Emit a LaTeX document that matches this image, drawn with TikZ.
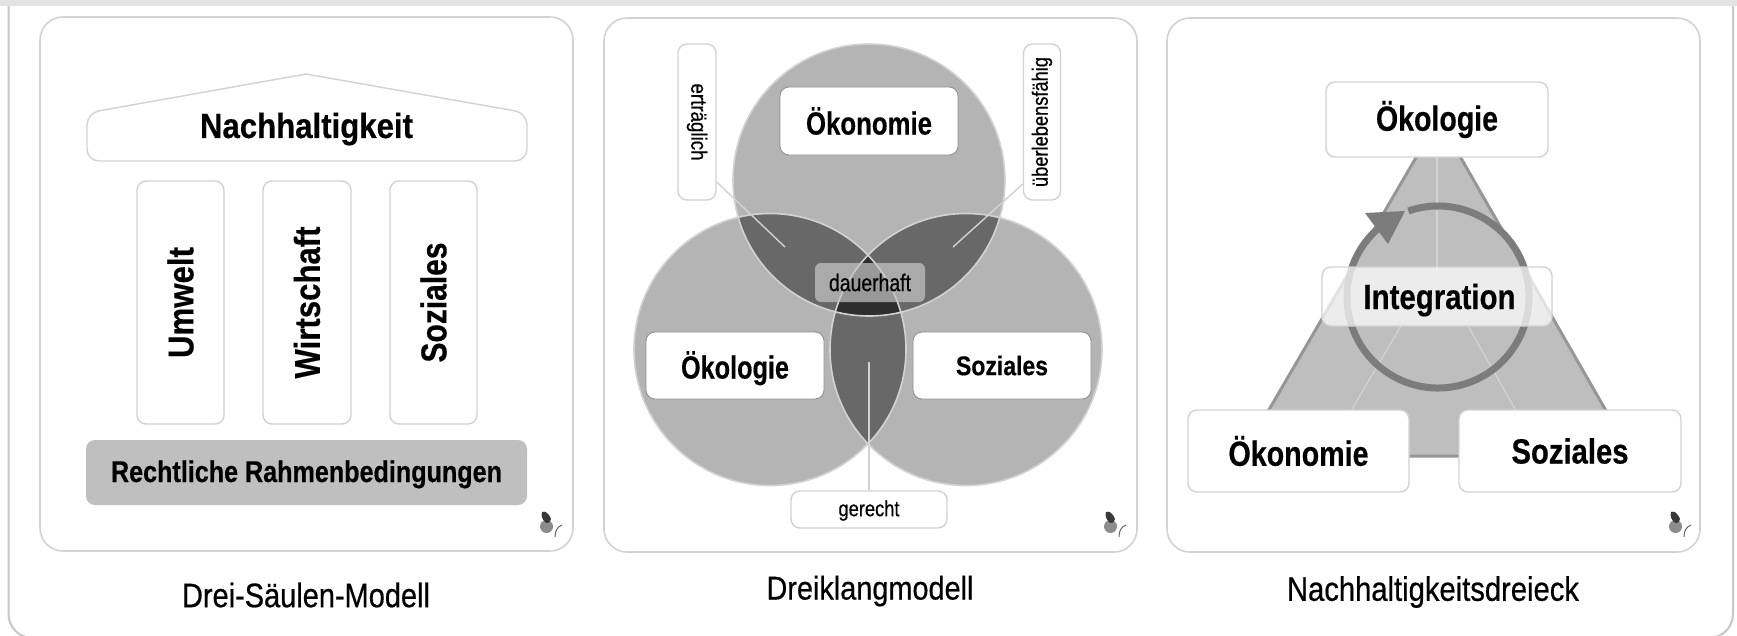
\documentclass[tikz,border=0pt]{standalone}
\usepackage{fontspec}
\usepackage{graphicx}
\setmainfont{Liberation Sans}
\newfontfamily\hvb[BoldFeatures={FakeBold=0.5}]{Liberation Sans}
\newfontfamily\hvr[FakeBold=0.6]{Liberation Sans}
\newcommand{\bt}[3]{\resizebox{#2pt}{\height}{\fontsize{#1pt}{#1pt}\hvb\bfseries #3}}
\newcommand{\rt}[3]{\resizebox{#2pt}{\height}{\fontsize{#1pt}{#1pt}\hvr #3}}
\definecolor{edge}{HTML}{D2D2D2}
\definecolor{venn}{HTML}{B4B4B4}
\definecolor{lens}{HTML}{686868}
\definecolor{core}{HTML}{2E2E2E}
\definecolor{tri}{HTML}{BEBEBE}
\definecolor{triedge}{HTML}{969696}
\definecolor{ringc}{HTML}{7C7C7C}
\tikzset{
  panel/.style={draw=edge,line width=1.6pt,fill=white,rounded corners=23pt,minimum width=533pt,minimum height=534pt,inner sep=0pt},
  box/.style={draw=edge,line width=1.4pt,fill=white,rounded corners=9pt,inner sep=0pt,text=black},
  caption/.style={inner sep=0pt,text=black},
  leader/.style={draw=edge,line width=1.4pt},
  vennring/.style={draw=edge,line width=1.6pt}
}
\newcommand{\fly}[2]{%
  \begin{scope}[shift={(#1,#2)}]
    \fill[black!45] (1.5,8.5) circle[radius=6.5];
    \fill[black!78] (-3,-6) .. controls (0,-7) and (3,-6) .. (6,1) .. controls (5,5) and (2,6) .. (0,4) .. controls (-3,1) and (-4,-2) .. (-3,-6) -- cycle;
    \draw[black!60,line width=1pt] (10,19) .. controls (10,13) and (12,9) .. (17,7);
  \end{scope}}
\begin{document}
\begin{tikzpicture}[x=1pt,y=-1pt]
\useasboundingbox (0,0) rectangle (1737,635);
\fill[white] (0,0) rectangle (1737,635);
% outer frame
\begin{scope}
\clip (0,0) rectangle (1737,635);
\draw[draw=black!22,line width=2pt,rounded corners=24pt] (8.5,0) -- (8.5,638) -- (1733,638) -- (1733,0);
\end{scope}
\fill[black!11] (0,0) rectangle (1737,5.8);

% panels
\node[panel] (p1) at (306.5,284) {};
\node[panel] (p2) at (870.5,285) {};
\node[panel] (p3) at (1433.5,285) {};

% ---------- panel 1
\draw[draw=edge,line width=1.4pt,fill=white] (306,74) [rounded corners=12pt] -- (527,113) -- (527,161) -- (87,161) -- (87,113) [sharp corners] -- cycle;
\node[caption] (nh) at (306.5,129) {\bt{35}{213}{Nachhaltigkeit}};
\node[box,minimum width=87pt,minimum height=243pt] (u) at (180.5,302.5) {\rotatebox{90}{\bt{36}{111}{Umwelt}}};
\node[box,minimum width=88pt,minimum height=243pt] (w) at (307,302.5) {\rotatebox{90}{\bt{36}{152}{Wirtschaft}}};
\node[box,minimum width=87pt,minimum height=243pt] (s) at (433.5,302.5) {\rotatebox{90}{\bt{36}{120}{Soziales}}};
\node[rounded corners=9pt,fill=black!25,inner sep=0pt,minimum width=441pt,minimum height=65pt,text=black,text height=21pt,text depth=2pt] (r) at (306.5,472.5) {\bt{30}{391}{Rechtliche Rahmenbedingungen}};
\node[caption] (c1) at (306,595) {\rt{34}{248}{Drei-Säulen-Modell}};
\fly{545}{518}

% ---------- panel 2
\coordinate (ct) at (869,180);
\coordinate (cl) at (770,349.5);
\coordinate (cr) at (966,349.5);
\def\vr{136}
\fill[venn] (ct) circle[radius=\vr] (cl) circle[radius=\vr] (cr) circle[radius=\vr];
\begin{scope}
  \clip (ct) circle[radius=\vr];
  \fill[lens] (cl) circle[radius=\vr];
  \fill[lens] (cr) circle[radius=\vr];
\end{scope}
\begin{scope}
  \clip (cl) circle[radius=\vr];
  \fill[lens] (cr) circle[radius=\vr];
\end{scope}
\begin{scope}
  \clip (ct) circle[radius=\vr];
  \clip (cl) circle[radius=\vr];
  \fill[core] (cr) circle[radius=\vr];
\end{scope}
\draw[vennring] (ct) circle[radius=\vr] (cl) circle[radius=\vr] (cr) circle[radius=\vr];

\node[box,minimum width=38pt,minimum height=156pt] (ert) at (697,122) {\rotatebox{-90}{\rt{22}{77}{erträglich}}};
\node[box,minimum width=37pt,minimum height=156pt] (ueb) at (1042,122) {\rotatebox{90}{\rt{22}{130}{überlebensfähig}}};
\node[box,minimum width=156pt,minimum height=37pt,text height=16pt,text depth=2.6pt] (ger) at (869,509.5) {\rt{22}{61}{gerecht}};
\coordinate (ert1) at (785,247);
\coordinate (ueb1) at (953,247);
\coordinate (ger1) at (869,362);
\draw[leader] (ert.east |- 0,182) -- (ert1);
\draw[leader] (ueb.west |- 0,184) -- (ueb1);
\draw[leader] (ger) -- (ger1);
\node[box,draw=black!45,line width=.8pt,minimum width=178pt,minimum height=68pt] (o1) at (869,121) {\bt{32}{126}{Ökonomie}};
\node[box,draw=black!45,line width=.8pt,minimum width=178pt,minimum height=67pt,text height=29pt,text depth=3pt] (o2) at (735,365.5) {\bt{32}{108}{Ökologie}};
\node[box,draw=black!45,line width=.8pt,minimum width=178pt,minimum height=67pt] (o3) at (1002,365.5) {\bt{27}{92}{Soziales}};
\node[rounded corners=6pt,fill=black!22,fill opacity=.7,text opacity=1,inner sep=0pt,minimum width=110pt,minimum height=39pt] (d) at (870,282.5) {\rt{24}{82}{dauerhaft}};
\node[caption] (c2) at (870,591) {\rt{33}{207}{Dreiklangmodell}};
\fly{1109}{518}

% ---------- panel 3
\coordinate (ta) at (1438.5,119);
\coordinate (tl) at (1242,456);
\coordinate (tr) at (1632,456);
\coordinate (mc) at (1438,297);
\fill[tri] (ta) -- (tr) -- (tl) -- cycle;
\draw[triedge,line width=3pt,line join=round] (ta) -- (tr) -- (tl) -- cycle;
\draw[edge,line width=1.2pt] (1437,157) -- (1437,270);
\draw[edge,line width=1.2pt] (1401,326) -- (1352,409);
\draw[edge,line width=1.2pt] (1468,326) -- (1515,409);
\draw[ringc,line width=7pt] (mc) ++(-109:91) arc[start angle=-109,end angle=228,radius=91];
\fill[ringc] (1405,211) -- (1365,213) -- (1388,244) -- cycle;
\node[box,fill opacity=.72,text opacity=1,minimum width=230pt,minimum height=59pt,text height=25pt,text depth=0pt] (i) at (1437,296.5) {\hspace{5pt}\bt{35}{152}{Integration}};
\node[box,minimum width=222pt,minimum height=75pt] (e1) at (1437,119.5) {\bt{35}{122}{Ökologie}};
\node[box,minimum width=221pt,minimum height=82pt] (e2) at (1298.5,451) {\bt{35}{140}{Ökonomie}};
\node[box,minimum width=222pt,minimum height=82pt] (e3) at (1570,451) {\bt{35}{117}{Soziales}};
\node[caption] (c3) at (1433,592) {\rt{34}{292}{Nachhaltigkeitsdreieck}};
\fly{1674}{518}
\end{tikzpicture}
\end{document}
